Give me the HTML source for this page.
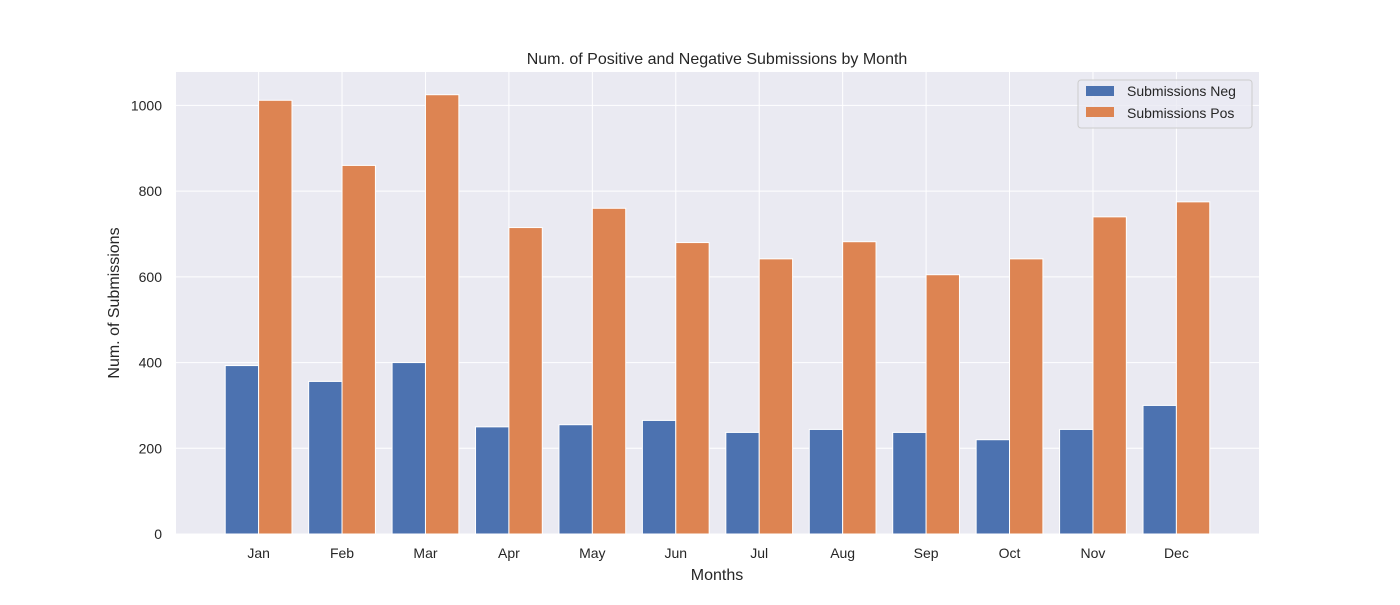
<!DOCTYPE html>
<html><head><meta charset="utf-8"><style>
body{margin:0;background:#fff;font-family:"Liberation Sans","DejaVu Sans",sans-serif}
</style></head><body>
<svg id="chart" width="1400" height="600" xmlns="http://www.w3.org/2000/svg" font-family="Liberation Sans, DejaVu Sans, sans-serif"></svg>
<script>
const categories=["Jan","Feb","Mar","Apr","May","Jun","Jul","Aug","Sep","Oct","Nov","Dec"];
const negValues=[393,356,400,250,255,265,237,244,237,220,244,300];
const posValues=[1012,860,1025,715,760,680,642,682,605,642,740,775];
const yTicks=[0,200,400,600,800,1000];
const L=176,R=1259,T=72,B=534;
const xMin=-0.99,xMax=11.99,yMax=1078;
const xs=v=>L+(v-xMin)/(xMax-xMin)*(R-L);
const ys=v=>B-v/yMax*(B-T);
const svg=document.getElementById('chart');
const NS='http://www.w3.org/2000/svg';
function mk(tag,attrs,parent){const e=document.createElementNS(NS,tag);for(const k in attrs)e.setAttribute(k,attrs[k]);(parent||svg).appendChild(e);return e;}
const bg=mk('rect',{x:L,y:T,width:R-L,height:B-T,fill:'#eaeaf2'});


yTicks.forEach(t=>{
  const g=mk('line',{x1:L,x2:R,y1:ys(t),y2:ys(t),stroke:'#fff','stroke-width':1});
  
  
  const tx=mk('text',{x:L-14,y:ys(t)+5,'text-anchor':'end','font-size':14,fill:'#262626'});
  tx.textContent=t;
  
  
});
categories.forEach((c,i)=>{
  const g=mk('line',{x1:xs(i),x2:xs(i),y1:T,y2:B,stroke:'#fff','stroke-width':1});
  
  
  const tx=mk('text',{x:xs(i),y:B+24,'text-anchor':'middle','font-size':14,fill:'#262626'});
  tx.textContent=c;
  
  
});
categories.forEach((c,i)=>{
  const n=mk('rect',{x:xs(i-0.4),y:ys(negValues[i]),width:xs(i)-xs(i-0.4),height:B-ys(negValues[i]),fill:'#4c72b0',stroke:'#fff','stroke-width':1});
  
  
  const p=mk('rect',{x:xs(i),y:ys(posValues[i]),width:xs(i+0.4)-xs(i),height:B-ys(posValues[i]),fill:'#dd8452',stroke:'#fff','stroke-width':1});
  
  
});
</script>
<svg width="1400" height="600" style="position:absolute;left:0;top:0" font-family="Liberation Sans, DejaVu Sans, sans-serif">
<text x="717" y="64" text-anchor="middle" font-size="16" fill="#262626">Num. of Positive and Negative Submissions by Month</text>
<text x="717" y="580" text-anchor="middle" font-size="16" fill="#262626">Months</text>
<text x="119" y="303" text-anchor="middle" font-size="16" fill="#262626" transform="rotate(-90 119 303)">Num. of Submissions</text>
<g>
<rect x="1078" y="80" width="174" height="48" rx="3" fill="#eaeaf2" fill-opacity="0.8" stroke="#ccc"/>
<rect x="1086" y="86" width="28" height="10" fill="#4c72b0"/>
<text x="1127" y="96" font-size="14" fill="#262626">Submissions Neg</text>
<rect x="1086" y="107" width="28" height="10" fill="#dd8452"/>
<text x="1127" y="118" font-size="14" fill="#262626">Submissions Pos</text>
</g>
</svg>
</body></html>
